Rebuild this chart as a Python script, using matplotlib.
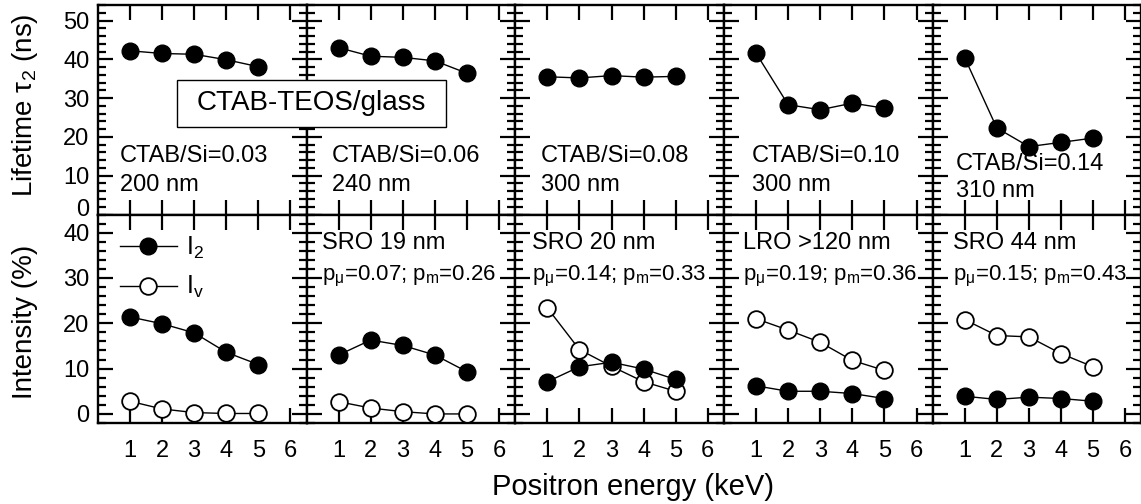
import matplotlib
matplotlib.use('Agg')
import matplotlib.pyplot as plt
from matplotlib.patches import Rectangle
from matplotlib.ticker import MultipleLocator, FixedLocator
from matplotlib.transforms import ScaledTranslation

plt.rcParams['font.family'] = ['Liberation Sans', 'DejaVu Sans']
plt.rcParams['mathtext.fontset'] = 'custom'
plt.rcParams['mathtext.rm'] = 'Liberation Sans'
plt.rcParams['mathtext.it'] = 'Liberation Sans:italic'
plt.rcParams['mathtext.bf'] = 'Liberation Sans:bold'

# ---------------- data ----------------
energy = [1, 2, 3, 4, 5]
xtick_values = [1, 2, 3, 4, 5, 6]

tau2_p1 = [42.2, 41.5, 41.3, 39.9, 38.1]
tau2_p2 = [43.0, 40.8, 40.5, 39.6, 36.4]
tau2_p3 = [35.5, 35.2, 35.8, 35.4, 35.6]
tau2_p4 = [41.6, 28.3, 27.0, 28.7, 27.4]
tau2_p5 = [40.4, 22.3, 17.5, 18.6, 19.7]

i2_p1 = [21.4, 19.9, 17.9, 13.6, 10.9]
i2_p2 = [13.0, 16.3, 15.1, 13.0, 9.3]
i2_p3 = [7.1, 10.4, 11.4, 9.9, 7.6]
i2_p4 = [6.2, 5.0, 5.0, 4.5, 3.4]
i2_p5 = [3.9, 3.2, 3.7, 3.4, 2.8]

iv_p1 = [2.8, 1.1, 0.3, 0.1, 0.1]
iv_p2 = [2.7, 1.3, 0.5, 0.0, 0.0]
iv_p3 = [23.4, 14.2, 10.5, 7.1, 5.0]
iv_p4 = [21.0, 18.5, 15.8, 11.8, 9.6]
iv_p5 = [20.8, 17.3, 17.0, 13.3, 10.4]

tau2_all = [tau2_p1, tau2_p2, tau2_p3, tau2_p4, tau2_p5]
i2_all = [i2_p1, i2_p2, i2_p3, i2_p4, i2_p5]
iv_all = [iv_p1, iv_p2, iv_p3, iv_p4, iv_p5]

ctab_labels = ['CTAB/Si=0.03', 'CTAB/Si=0.06', 'CTAB/Si=0.08', 'CTAB/Si=0.10', 'CTAB/Si=0.14']
thickness_labels = ['200 nm', '240 nm', '300 nm', '300 nm', '310 nm']
order_labels = [None, 'SRO 19 nm', 'SRO 20 nm', 'LRO >120 nm', 'SRO 44 nm']
p_mu_labels = [None, '0.07', '0.14', '0.19', '0.15']
p_m_labels = [None, '0.26', '0.33', '0.36', '0.43']
sample_title = 'CTAB-TEOS/glass'

# ---------------- layout ----------------
W, H = 1141, 504
fig = plt.figure(figsize=(W / 100, H / 100), dpi=100)


def px_axes(l, t, r, b):
    return fig.add_axes([l / W, 1 - b / H, (r - l) / W, (b - t) / H])


def style(ax, ylim, show_xlabels, show_ylabels):
    ax.set_xlim(0, 6.5)
    ax.set_ylim(*ylim)
    ax.xaxis.set_major_locator(FixedLocator(xtick_values))
    ax.yaxis.set_major_locator(MultipleLocator(10))
    ax.yaxis.set_minor_locator(MultipleLocator(2))
    ax.tick_params(which='both', direction='in', top=True, right=True,
                   width=1.6, color='black')
    ax.tick_params(which='major', length=11)
    ax.tick_params(which='minor', length=6)
    ax.tick_params(axis='x', labelbottom=show_xlabels, pad=12, labelsize=17)
    ax.tick_params(axis='y', labelleft=show_ylabels, pad=6, labelsize=17)
    for s in ax.spines.values():
        s.set_linewidth(1.7)


pitch = 208.7
left0 = 97.8
mk = 12
top_axes = []

for i in range(5):
    l = left0 + i * pitch
    axt = px_axes(l, 5, l + pitch, 214.5)
    axb = px_axes(l, 214.5, l + pitch, 423)
    top_axes.append(axt)
    style(axt, (0, 54), False, i == 0)
    style(axb, (-2, 44), True, i == 0)

    axt.plot(energy, tau2_all[i], 'o-', color='black', mfc='black', mec='black',
             ms=mk, lw=1.0, zorder=3, clip_on=False)
    h_i2, = axb.plot(energy, i2_all[i], 'o-', color='black', mfc='black', mec='black',
                     ms=mk, lw=1.0, zorder=4, clip_on=False)
    h_iv, = axb.plot(energy, iv_all[i], 'o-', color='black', mfc='white', mec='black',
                     mew=1.3, ms=mk, lw=1.0, zorder=3, clip_on=False)

    # annotations (top)
    tx = [0.69, 0.78, 0.80, 0.86, 0.72][i]
    ty1 = [15.0, 15.0, 15.0, 15.0, 13.0][i]
    ty2 = [7.5, 7.5, 7.5, 7.5, 6.0][i]
    axt.text(tx, ty1, ctab_labels[i], fontsize=17, va='center', ha='left', zorder=2)
    axt.text(tx, ty2, thickness_labels[i], fontsize=17, va='center', ha='left', zorder=2)

    if i == 0:
        axb.legend([h_i2, h_iv], [r'$\mathregular{I_2}$', r'$\mathregular{I_v}$'],
                   loc='upper left', bbox_to_anchor=(0.105, 0.905), frameon=False,
                   fontsize=18, handlelength=2.3, handletextpad=0.35,
                   labelspacing=0.55, borderaxespad=0, borderpad=0)
    else:
        bx = [0, 0.47, 0.51, 0.60, 0.65][i]
        axb.text(bx, 37.8, order_labels[i], fontsize=17, va='center', ha='left')
        axb.text(bx, 30.4,
                 r'p$_\mathregular{\mu}$=' + p_mu_labels[i] + r'; p$_\mathregular{m}$=' + p_m_labels[i],
                 fontsize=16, va='center', ha='left')

# axis labels
fig.text(25 / W, 1 - 105 / H, r'Lifetime $\mathregular{\tau_2}$ (ns)', rotation=90,
         ha='center', va='center', fontsize=20)
fig.text(25 / W, 1 - 322 / H, 'Intensity (%)', rotation=90,
         ha='center', va='center', fontsize=20)
fig.text(633 / W, 1 - 487 / H, 'Positron energy (keV)', ha='center', va='center', fontsize=21)

# sample box
bl, bt, br, bb = 177, 80, 446, 127
fig.patches.append(Rectangle((bl / W, 1 - bb / H), (br - bl) / W, (bb - bt) / H,
                             transform=fig.transFigure, facecolor='white',
                             edgecolor='black', lw=1.0, zorder=5))
fig.text((bl + br) / 2 / W, 1 - (bt + bb) / 2 / H, sample_title, ha='center', va='center',
         fontsize=20, zorder=6)

# nudge the top panel's "0" label upward (as in the reference) so it clears "40"
fig.canvas.draw()
for lab in top_axes[0].get_yticklabels():
    if lab.get_text() == '0':
        lab.set_transform(lab.get_transform() + ScaledTranslation(0, 5 / 72, fig.dpi_scale_trans))

fig.savefig('out.png', dpi=100)
